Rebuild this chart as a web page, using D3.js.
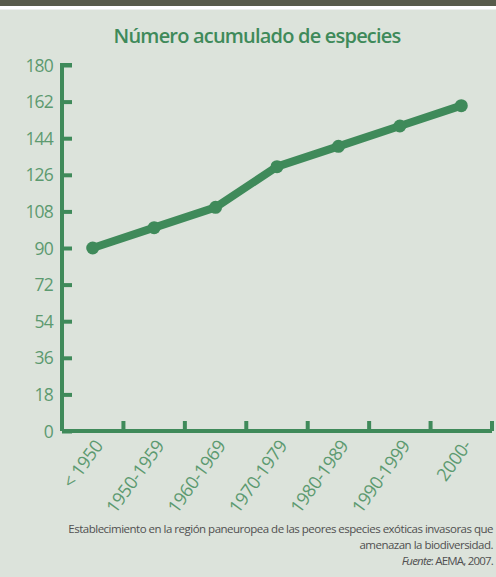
<!DOCTYPE html>
<html>
<head>
  <script src="https://d3js.org/d3.v7.min.js"></script>
  <style>
    body { margin: 0; background: #dce3db; }
    svg { display: block; }
  </style>
</head>
<body>
<div id="chart"></div>
<script>
  const periods = ["< 1950", "1950-1959", "1960-1969", "1970-1979", "1980-1989", "1990-1999", "2000-"];
  const species = [90, 100, 110, 130, 140, 150, 160];
  const yTicks = [0, 18, 36, 54, 72, 90, 108, 126, 144, 162, 180];
  const noteLines = [
    "Establecimiento en la región paneuropea de las peores especies exóticas invasoras que",
    "amenazan la biodiversidad."
  ];

  const width = 496, height = 577;
  const green = "#3f8a5a";
  const labelGreen = "#5c9a70";

  const svg = d3.select("#chart").append("svg")
    .attr("width", width)
    .attr("height", height);

  svg.append("rect").attr("width", width).attr("height", height).attr("fill", "#dce3db");
  svg.append("rect").attr("width", width).attr("height", 6).attr("fill", "#585b4b");
  svg.append("rect").attr("y", 6).attr("width", width).attr("height", 3.5).attr("fill", "#ffffff");

  const x = d3.scaleBand().domain(periods).range([62, 492]);
  const y = d3.scaleLinear().domain([0, 180]).range([431, 65]);

  // title
  svg.append("text")
    .attr("x", 257).attr("y", 43)
    .attr("text-anchor", "middle")
    .attr("fill", green)
    .style("font-family", "'Open Sans', sans-serif")
    .style("font-weight", 600)
    .style("font-size", "20px")
    .style("letter-spacing", "-0.8px")
    .text("Número acumulado de especies");

  // y axis
  const yAxis = svg.append("g")
    .attr("transform", "translate(62,0)")
    .call(d3.axisRight(y).tickValues(yTicks).tickSize(10).tickFormat(""));
  yAxis.select(".domain").attr("stroke", green).attr("stroke-width", 4)
    .attr("d", `M10,${y(180)}H0V${y(0)}`);
  yAxis.selectAll(".tick line").attr("stroke", green).attr("stroke-width", 4);

  svg.selectAll(".ylab")
    .data(yTicks)
    .enter().append("text")
    .attr("class", "ylab")
    .attr("x", 53)
    .attr("y", d => y(d) + 6.5)
    .attr("text-anchor", "end")
    .attr("fill", labelGreen)
    .style("font-family", "'Open Sans', sans-serif")
    .style("font-size", "17.5px")
    .style("letter-spacing", "-0.8px")
    .text(d => d);

  // x axis, ticks between bands pointing up
  const xEdges = periods.map(p => x(p) + x.bandwidth());
  svg.append("path")
    .attr("d", `M62,${y(0)}H492`)
    .attr("stroke", green).attr("stroke-width", 4).attr("fill", "none");
  svg.selectAll(".xtick")
    .data(xEdges)
    .enter().append("line")
    .attr("x1", d => d).attr("x2", d => d)
    .attr("y1", y(0)).attr("y2", y(0) - 10)
    .attr("stroke", green).attr("stroke-width", 4);

  svg.selectAll(".xlab")
    .data(periods)
    .enter().append("text")
    .attr("text-anchor", "end")
    .attr("transform", d => `translate(${x(d) + x.bandwidth() / 2 + 11},${y(0) + 15}) rotate(-54)`)
    .attr("fill", labelGreen)
    .style("font-family", "'Open Sans', sans-serif")
    .style("font-size", "18px")
    .style("letter-spacing", "-0.4px")
    .text(d => d);

  // line
  const line = d3.line()
    .x((d, i) => x(periods[i]) + x.bandwidth() / 2)
    .y(d => y(d));
  svg.append("path")
    .datum(species)
    .attr("d", line)
    .attr("fill", "none")
    .attr("stroke", green)
    .attr("stroke-width", 8)
    .attr("stroke-linejoin", "round");
  svg.selectAll(".dot")
    .data(species)
    .enter().append("circle")
    .attr("cx", (d, i) => x(periods[i]) + x.bandwidth() / 2)
    .attr("cy", d => y(d))
    .attr("r", 6.5)
    .attr("fill", green);

  // footnote
  const note = svg.append("g")
    .attr("fill", "#505050")
    .attr("text-anchor", "end")
    .style("font-family", "'Open Sans', sans-serif")
    .style("font-size", "11.5px")
    .style("letter-spacing", "-0.5px");
  note.append("text").attr("x", 493).attr("y", 533).text(noteLines[0]);
  note.append("text").attr("x", 493).attr("y", 549).text(noteLines[1]);
  const src = note.append("text").attr("x", 493).attr("y", 565)
    .style("letter-spacing", "-0.8px");
  src.append("tspan").style("font-style", "italic").text("Fuente");
  src.append("tspan").text(": AEMA, 2007.");
</script>
</body>
</html>
